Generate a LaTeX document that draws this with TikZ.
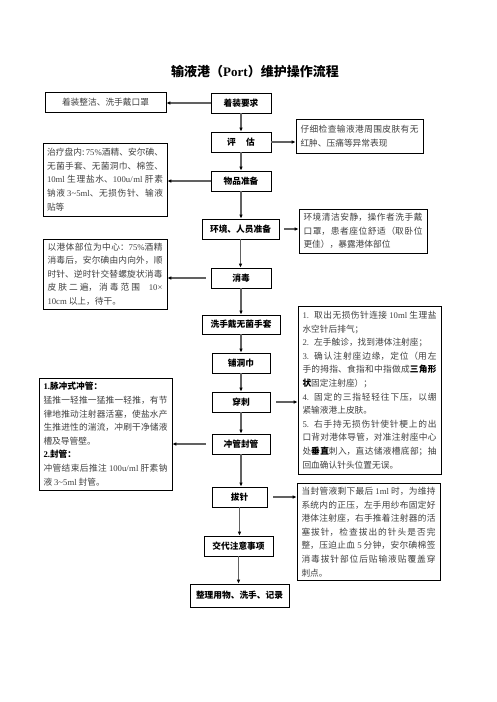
\documentclass[tikz,border=0pt]{standalone}
\usepackage{fontspec}
\setmainfont{Noto Sans CJK SC}
\newfontfamily\latinfont{Liberation Serif}
\newcommand\lt[1]{{\latinfont #1}}
\usetikzlibrary{arrows.meta}
\XeTeXlinebreaklocale "zh"
\XeTeXlinebreakskip=0pt plus 2pt minus 0.4pt
\tikzset{
  mbox/.style={draw, line width=0.8pt, font=\bfseries\fontsize{8.7}{10}\selectfont, inner sep=0pt, minimum height=20pt, anchor=center},
  sbox/.style={draw, line width=0.7pt, text=black!75, font=\fontsize{8.7}{13.6}\selectfont, align=justify, inner xsep=4.5pt, inner ysep=0pt, anchor=center},
  conn/.style={draw=black!62, line width=1.2pt, -{Latex[length=4pt,width=3.6pt,color=black]}}
}
\begin{document}
\begin{tikzpicture}[x=1pt,y=-1pt]
\fill[white] (0,0) rectangle (496,702);
\useasboundingbox (0,0) rectangle (496,702);

\node[font=\bfseries\fontsize{13}{15}\selectfont] (title) at (255,72) {输液港（\lt{Port}）维护操作流程};

% middle column
\node[mbox, minimum width=60pt] (m1) at (241,103) {着装要求};
\node[mbox, minimum width=60pt] (m2) at (241,142) {评\hspace{1.2em}估};
\node[mbox, minimum width=60pt] (m3) at (241,181) {物品准备};
\node[mbox, minimum width=77pt] (m4) at (240.5,229) {环境、人员准备};
\node[mbox, minimum width=60pt] (m5) at (241,278) {消毒};
\node[mbox, minimum width=78pt, minimum height=19pt] (m6) at (241,324.5) {洗手戴无菌手套};
\node[mbox, minimum width=58pt] (m7) at (241,363) {铺洞巾};
\node[mbox, minimum width=58pt] (m8) at (241,402) {穿刺};
\node[mbox, minimum width=58pt] (m9) at (241,444) {冲管封管};
\node[mbox, minimum width=55pt] (m10) at (239.5,497) {拔针};
\node[mbox, minimum width=69pt] (m11) at (238.5,546) {交代注意事项};
\node[mbox, minimum width=99pt, minimum height=23pt] (m12) at (239.5,595.5) {整理用物、洗手、记录};

% left column
\node[draw, line width=0.7pt, text=black!75, font=\fontsize{8.7}{10}\selectfont, minimum width=121pt, minimum height=20pt, inner sep=0pt] (l1) at (105.5,102) {着装整洁、洗手戴口罩};
\node[sbox, inner xsep=4pt, text width=116pt, minimum height=73pt] (l2) at (105,179.5) {治疗盘内:\,\lt{75\%}酒精、安尔碘、\linebreak 无菌手套、无菌洞巾、棉签、\linebreak \lt{10ml} 生理盐水、\lt{100u/ml} 肝素\linebreak 钠液 \lt{3\textasciitilde5ml}、无损伤针、输液\linebreak 贴等};
\node[sbox, text width=115pt, minimum height=70pt] (l3) at (105,274) {以港体部位为中心：\lt{75\%}酒精\linebreak 消毒后，安尔碘由内向外，顺\linebreak 时针、逆时针交替螺旋状消毒\linebreak 皮肤二遍，消毒范围\hspace{1em}\lt{10×}\linebreak \lt{10cm} 以上，待干。};
\node[sbox, text width=124pt, minimum height=112pt] (l4) at (105.5,434) {{\color{black}\bfseries\lt{1.}脉冲式冲管：}\\ 猛推一轻推一猛推一轻推，有节\linebreak 律地推动注射器活塞，使盐水产\linebreak 生推进性的湍流，冲刷干净储液\linebreak 槽及导管壁。\\ {\color{black}\bfseries\lt{2.}封管：}\\ 冲管结束后推注 \lt{100u/ml} 肝素钠\linebreak 液 \lt{3\textasciitilde5ml} 封管。};

% right column
\node[sbox, text width=118pt, minimum height=34pt] (r1) at (359.5,136) {仔细检查输液港周围皮肤有无\linebreak 红肿、压痛等异常表现};
\node[sbox, text width=119pt, minimum height=44pt] (r2) at (363,231) {环境清洁安静，操作者洗手戴\linebreak 口罩，患者座位舒适（取卧位\linebreak 更佳），暴露港体部位};
\node[sbox, text width=134pt, minimum height=168pt] (r3) at (369.5,390) {\lt{1.}\hspace{0.6em}取出无损伤针连接 \lt{10ml} 生理盐\linebreak 水空针后排气；\\ \lt{2.}\hspace{0.6em}左手触诊，找到港体注射座；\\ \lt{3.}\hspace{0.6em}确认注射座边缘，定位（用左\linebreak 手的拇指、食指和中指做成{\color{black}\bfseries 三角形\linebreak 状}固定注射座）；\\ \lt{4.}\hspace{0.6em}固定的三指轻轻往下压，以绷\linebreak 紧输液港上皮肤。\\ \lt{5.}\hspace{0.6em}右手持无损伤针使针梗上的出\linebreak 口背对港体导管，对准注射座中心\linebreak 处{\color{black}\bfseries 垂直}刺入，直达储液槽底部；抽\linebreak 回血确认针头位置无误。};
\node[sbox, text width=134pt, minimum height=97pt] (r4) at (368.5,532) {当封管液剩下最后 \lt{1ml} 时，为维持\linebreak 系统内的正压，左手用纱布固定好\linebreak 港体注射座，右手推着注射器的活\linebreak 塞拔针，检查拔出的针头是否完\linebreak 整，压迫止血 \lt{5} 分钟，安尔碘棉签\linebreak 消毒拔针部位后贴输液贴覆盖穿\linebreak 刺点。};

% vertical connectors
\foreach \a/\b in {m1/m2,m2/m3,m3/m4,m4/m5,m5/m6,m6/m7,m7/m8,m8/m9,m9/m10,m10/m11,m11/m12}
  \draw[conn] (\a.south) -- (\a.south |- \b.north);

% left connectors
\draw[conn] (m1.west) -- (m1.west -| l1.east);
\draw[conn] (m3.west) -- (m3.west -| l2.east);
\draw[conn, shorten <=5pt] (m5.west) -- (m5.west -| l3.east);
\draw[conn, shorten <=6pt] (m9.west) -- (m9.west -| l4.east);

% right connectors
\draw[conn] (m2.east) -- (m2.east -| r1.west);
\draw[conn, shorten <=5pt] (m4.east) -- (m4.east -| r2.west);
\draw[conn, shorten <=6pt] (m8.east) -- (m8.east -| r3.west);
\draw[conn, shorten <=6pt] (m10.east) -- (m10.east -| r4.west);
\end{tikzpicture}
\end{document}
